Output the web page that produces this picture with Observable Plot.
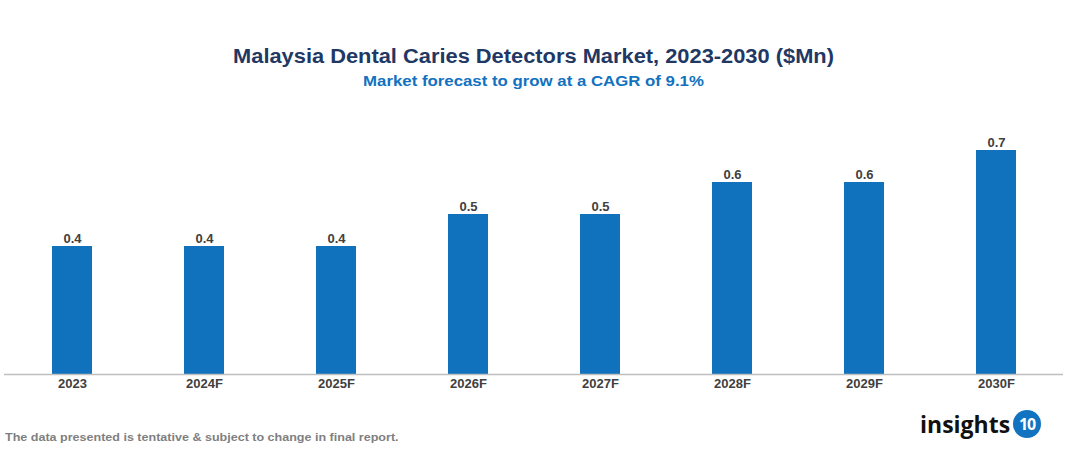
<!DOCTYPE html>
<html>
<head>
<meta charset="utf-8">
<script src="https://cdn.jsdelivr.net/npm/d3@7"></script>
<script src="https://cdn.jsdelivr.net/npm/@observablehq/plot@0.6"></script>
<style>
  html, body { margin: 0; padding: 0; background: #fff; width: 1067px; height: 454px; overflow: hidden; font-family: "Liberation Sans", Arial, sans-serif; }
  #title { position: absolute; top: 45px; left: 0; width: 1067px; text-align: center; font-weight: bold; font-size: 19.5px; color: #1f3864; transform: scaleX(1.12); transform-origin: 533.5px 0; }
  #subtitle { position: absolute; top: 72px; left: 0; width: 1067px; text-align: center; font-weight: bold; font-size: 15px; color: #1272c0; transform: scaleX(1.12); transform-origin: 533.5px 0; }
  #chart { position: absolute; top: 100px; left: 0; }
  #note { position: absolute; top: 431px; left: 5px; font-weight: bold; font-size: 11.5px; color: #7f7f7f; transform: scaleX(1.09); transform-origin: 0 0; white-space: nowrap; }
  #logo { position: absolute; top: 408px; left: 920px; font-family: "Open Sans", "Liberation Sans", sans-serif; font-weight: bold; font-size: 23px; color: #111; display: flex; align-items: center; }
  #logo .ten { display: inline-block; width: 28px; height: 28px; border-radius: 50%; background: #1273c1; color: #fff; font-size: 16px; line-height: 28px; text-align: center; margin-left: 3px; letter-spacing: -1px; }
</style>
</head>
<body>
<div id="title">Malaysia Dental Caries Detectors Market, 2023-2030 ($Mn)</div>
<div id="subtitle">Market forecast to grow at a CAGR of 9.1%</div>
<div id="chart"></div>
<div id="note">The data presented is tentative &amp; subject to change in final report.</div>
<div id="logo"><span>insights</span><span class="ten">10</span></div>
<script>
const years = ["2023", "2024F", "2025F", "2026F", "2027F", "2028F", "2029F", "2030F"];
const values = [0.4, 0.4, 0.4, 0.5, 0.5, 0.6, 0.6, 0.7];
const labels = ["0.4", "0.4", "0.4", "0.5", "0.5", "0.6", "0.6", "0.7"];

const data = years.map((y, i) => ({year: y, value: values[i], label: labels[i]}));

const chart = Plot.plot({
  width: 1067,
  height: 300,
  marginLeft: 4,
  marginRight: 4,
  marginTop: 50,
  marginBottom: 26,
  style: {fontFamily: "'Liberation Sans', Arial, sans-serif", background: "transparent"},
  x: {domain: years, paddingInner: 0.7, paddingOuter: 0.34, label: null},
  y: {domain: [0, 0.7], axis: null},
  marks: [
    Plot.barY(data, {x: "year", y: "value", fill: "#1072bd"}),
    Plot.ruleY([0], {stroke: "#bfbfbf", strokeWidth: 1.5}),
    Plot.text(data, {x: "year", y: "value", text: "label", dy: -8, fontSize: 13, fontWeight: "bold", fill: "#404040"}),
    Plot.axisX({tickSize: 0, tickPadding: 4, fontSize: 13, fontWeight: "bold", fill: "#404040", label: null})
  ]
});
document.getElementById("chart").appendChild(chart);
</script>
</body>
</html>
